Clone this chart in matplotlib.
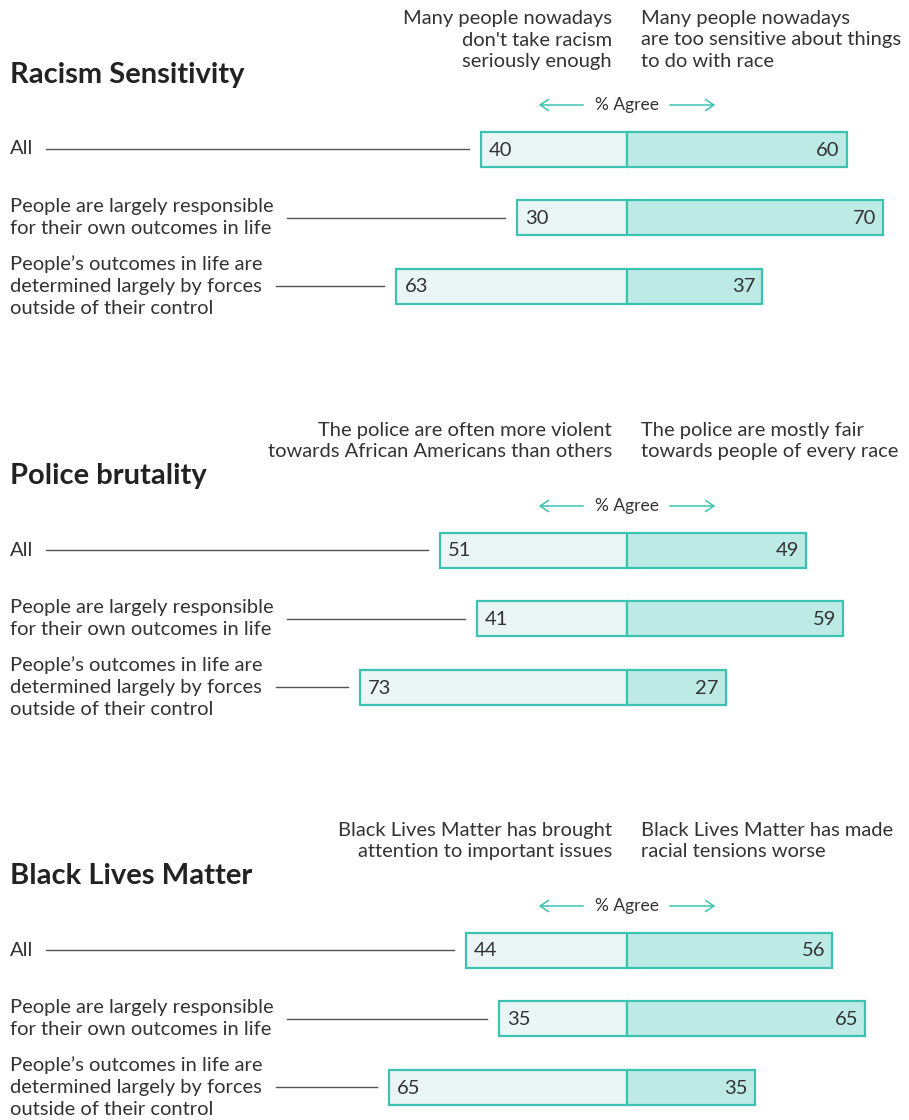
import matplotlib
matplotlib.use("Agg")
import matplotlib.pyplot as plt
from matplotlib.patches import FancyArrowPatch

plt.rcParams["font.family"] = ["Lato", "DejaVu Sans"]

# ---- data -------------------------------------------------------------
titles = ["Racism Sensitivity", "Police brutality", "Black Lives Matter"]
left_headers = [
    "Many people nowadays\ndon't take racism\nseriously enough",
    "The police are often more violent\ntowards African Americans than others",
    "Black Lives Matter has brought\nattention to important issues",
]
right_headers = [
    "Many people nowadays\nare too sensitive about things\nto do with race",
    "The police are mostly fair\ntowards people of every race",
    "Black Lives Matter has made\nracial tensions worse",
]
row_labels = [
    "All",
    "People are largely responsible\nfor their own outcomes in life",
    "People\u2019s outcomes in life are\ndetermined largely by forces\noutside of their control",
]
left_values = [[40, 30, 63], [51, 41, 73], [44, 35, 65]]
right_values = [[60, 70, 37], [49, 59, 27], [56, 65, 35]]

# ---- style ------------------------------------------------------------
LEFT_FILL = "#eaf6f5"
RIGHT_FILL = "#bdeae4"
EDGE = "#3cc2b0"
TEXT = "#333333"
TITLE = "#222222"
LEADER = "#555555"

W, H = 909, 1120
CENTER = 627          # pixel x of the 0 line
S = 3.66              # pixels per percentage point
PANEL_TOP = [0, 401, 801]
ROW_OFF = [149, 217.5, 286]
BAR_H = 35
PX = 1 / S            # one pixel in data units
FS = 14.5
LS = 1.34

fig = plt.figure(figsize=(W / 100, H / 100), dpi=100)
ax = fig.add_axes([0, 0, 1, 1])
ax.set_xlim(-CENTER / S, (W - CENTER) / S)
ax.set_ylim(H, 0)
ax.axis("off")

label_x = -CENTER / S + 10 * PX
renderer = fig.canvas.get_renderer()
inv = ax.transData.inverted()

for p, top in enumerate(PANEL_TOP):
    ax.text(label_x, top + 75, titles[p], fontsize=21, fontweight="bold",
            color=TITLE, va="center", ha="left")
    ax.text(-15 * PX, top + 40, left_headers[p], fontsize=FS, color=TEXT,
            ha="right", va="center", multialignment="right", linespacing=LS)
    ax.text(14 * PX, top + 40, right_headers[p], fontsize=FS, color=TEXT,
            ha="left", va="center", multialignment="left", linespacing=LS)

    # % Agree with arrows
    ay = top + 105
    ax.text(0, ay, "% Agree", fontsize=12.5, color=TEXT, ha="center", va="center")
    ax.add_patch(FancyArrowPatch((-41 * PX, ay), (-91 * PX, ay), arrowstyle="->,head_length=6,head_width=4",
                                 color=EDGE, lw=1.1, mutation_scale=1))
    ax.add_patch(FancyArrowPatch((40 * PX, ay), (91 * PX, ay), arrowstyle="->,head_length=6,head_width=4",
                                 color=EDGE, lw=1.1, mutation_scale=1))

    for r in range(3):
        y = top + ROW_OFF[r]
        lv = left_values[p][r]
        rv = right_values[p][r]
        ax.barh(y, -lv, height=BAR_H, left=0, color=LEFT_FILL, edgecolor=EDGE, linewidth=1.6)
        ax.barh(y, rv, height=BAR_H, left=0, color=RIGHT_FILL, edgecolor=EDGE, linewidth=1.6)
        ax.text(-lv + 8 * PX, y + 1, str(lv), fontsize=FS, color=TEXT, ha="left", va="center")
        ax.text(rv - 7 * PX, y + 1, str(rv), fontsize=FS, color=TEXT, ha="right", va="center")

        t = ax.text(label_x, y, row_labels[r], fontsize=FS, color=TEXT,
                    ha="left", va="center", linespacing=LS)
        bb = t.get_window_extent(renderer)
        x_end = inv.transform((bb.x1, 0))[0]
        ax.plot([x_end + 13 * PX, -lv - 12 * PX], [y, y], color=LEADER, lw=1)

fig.savefig("out.png", dpi=100)
